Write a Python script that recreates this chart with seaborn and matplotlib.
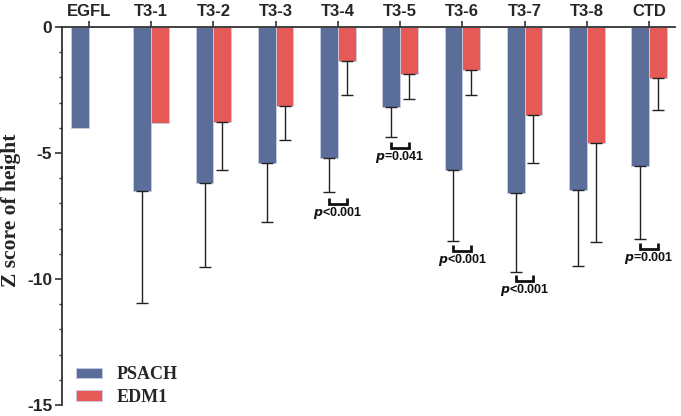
import numpy as np
import pandas as pd
import matplotlib
matplotlib.use("Agg")
import matplotlib.pyplot as plt
import seaborn as sns

categories = ["EGFL", "T3-1", "T3-2", "T3-3", "T3-4", "T3-5", "T3-6", "T3-7", "T3-8", "CTD"]
psach_mean = [-4.0, -6.5, -6.19, -5.41, -5.19, -3.17, -5.67, -6.57, -6.47, -5.52]
psach_sd = [np.nan, 4.44, 3.32, 2.34, 1.37, 1.18, 2.82, 3.14, 3.01, 2.88]
edm1_mean = [np.nan, -3.8, -3.77, -3.13, -1.35, -1.85, -1.71, -3.48, -4.59, -2.04]
edm1_sd = [np.nan, np.nan, 1.9, 1.37, 1.35, 1.0, 1.0, 1.92, 3.95, 1.25]
groups = ["PSACH", "EDM1"]
colors = ["#5A6E99", "#E55A56"]

sig_categories = ["T3-4", "T3-5", "T3-6", "T3-7", "CTD"]
sig_labels = ["<0.001", "=0.041", "<0.001", "<0.001", "=0.001"]
sig_levels = [-6.79, -4.56, -8.65, -9.84, -8.57]

df = pd.DataFrame({
    "category": categories * 2,
    "group": [groups[0]] * len(categories) + [groups[1]] * len(categories),
    "value": psach_mean + edm1_mean,
})

sns.set_style("white")
plt.rcParams["axes.unicode_minus"] = False
fig = plt.figure(figsize=(6.81, 4.16), dpi=100)
ax = fig.add_axes([62 / 681, 1 - 405 / 416, 613 / 681, 378 / 416])

sns.barplot(data=df, x="category", y="value", hue="group", order=categories,
            hue_order=groups, palette=colors, width=0.57, errorbar=None,
            saturation=1, ax=ax, edgecolor="#c8cde0", linewidth=0.6)

# bar centers from the drawn patches
centers = {g: {} for g in groups}
for gi, cont in enumerate(ax.containers):
    for patch in cont.patches:
        xc = patch.get_x() + patch.get_width() / 2
        if np.isnan(patch.get_height()):
            continue
        centers[groups[gi]][categories[int(round(xc))]] = xc

for g, means, sds in [("PSACH", psach_mean, psach_sd), ("EDM1", edm1_mean, edm1_sd)]:
    for c, m, s in zip(categories, means, sds):
        if np.isnan(m) or np.isnan(s) or c not in centers[g]:
            continue
        ax.errorbar(centers[g][c], m, yerr=[[s], [0]], fmt="none", ecolor="#222222",
                    elinewidth=1.0, capsize=4, capthick=1.0, zorder=3)

for c, lab, lev in zip(sig_categories, sig_labels, sig_levels):
    x1 = centers["PSACH"][c]
    x2 = centers["EDM1"][c]
    h = 0.25
    ax.plot([x1, x1, x2, x2], [lev, lev - h, lev - h, lev], color="#111111", lw=2.0,
            solid_capstyle="butt", solid_joinstyle="miter", zorder=4)
    xm = (x1 + x2) / 2
    ax.text(xm, lev - h - 0.33, r"$\bfit{p}$" + lab, ha="center", va="center",
            fontsize=9, fontweight="bold", family="Liberation Sans", color="#111111")

ax.set_ylim(-15, 0)
ax.set_xlim(-0.434, 9.418)
ax.xaxis.tick_top()
ax.xaxis.set_label_position("top")
ax.set_xlabel("")
ax.set_ylabel("Z score of height", family="Liberation Serif", fontweight="bold",
              fontsize=15.5)
ax.yaxis.set_label_coords(-0.067, 0.516)
ax.set_yticks([0, -5, -10, -15])
ax.set_yticks(np.arange(-15, 0, 1), minor=True)
ax.tick_params(axis="y", which="major", direction="out", length=5, width=1.2,
               labelsize=12.5, left=True, color="#333333", pad=2)
ax.tick_params(axis="y", which="minor", direction="out", length=2.5, width=1.0,
               left=True, color="#333333")
ax.tick_params(axis="x", which="major", direction="out", length=4, width=1.2,
               labelsize=12, top=True, bottom=False, color="#333333", pad=2)
for lab in ax.get_xticklabels() + ax.get_yticklabels():
    lab.set_fontweight("bold")
    lab.set_family("Liberation Sans")

for side in ["right", "bottom"]:
    ax.spines[side].set_visible(False)
for side in ["left", "top"]:
    ax.spines[side].set_visible(True)
    ax.spines[side].set_linewidth(1.3)
    ax.spines[side].set_color("#333333")

leg = ax.legend(loc="lower left", bbox_to_anchor=(-0.003, -0.045), frameon=False,
                prop={"family": "Liberation Serif", "weight": "bold", "size": 13},
                handlelength=1.39, handleheight=0.55, handletextpad=0.85, labelspacing=0.3)

fig.savefig("out.png", dpi=100)
